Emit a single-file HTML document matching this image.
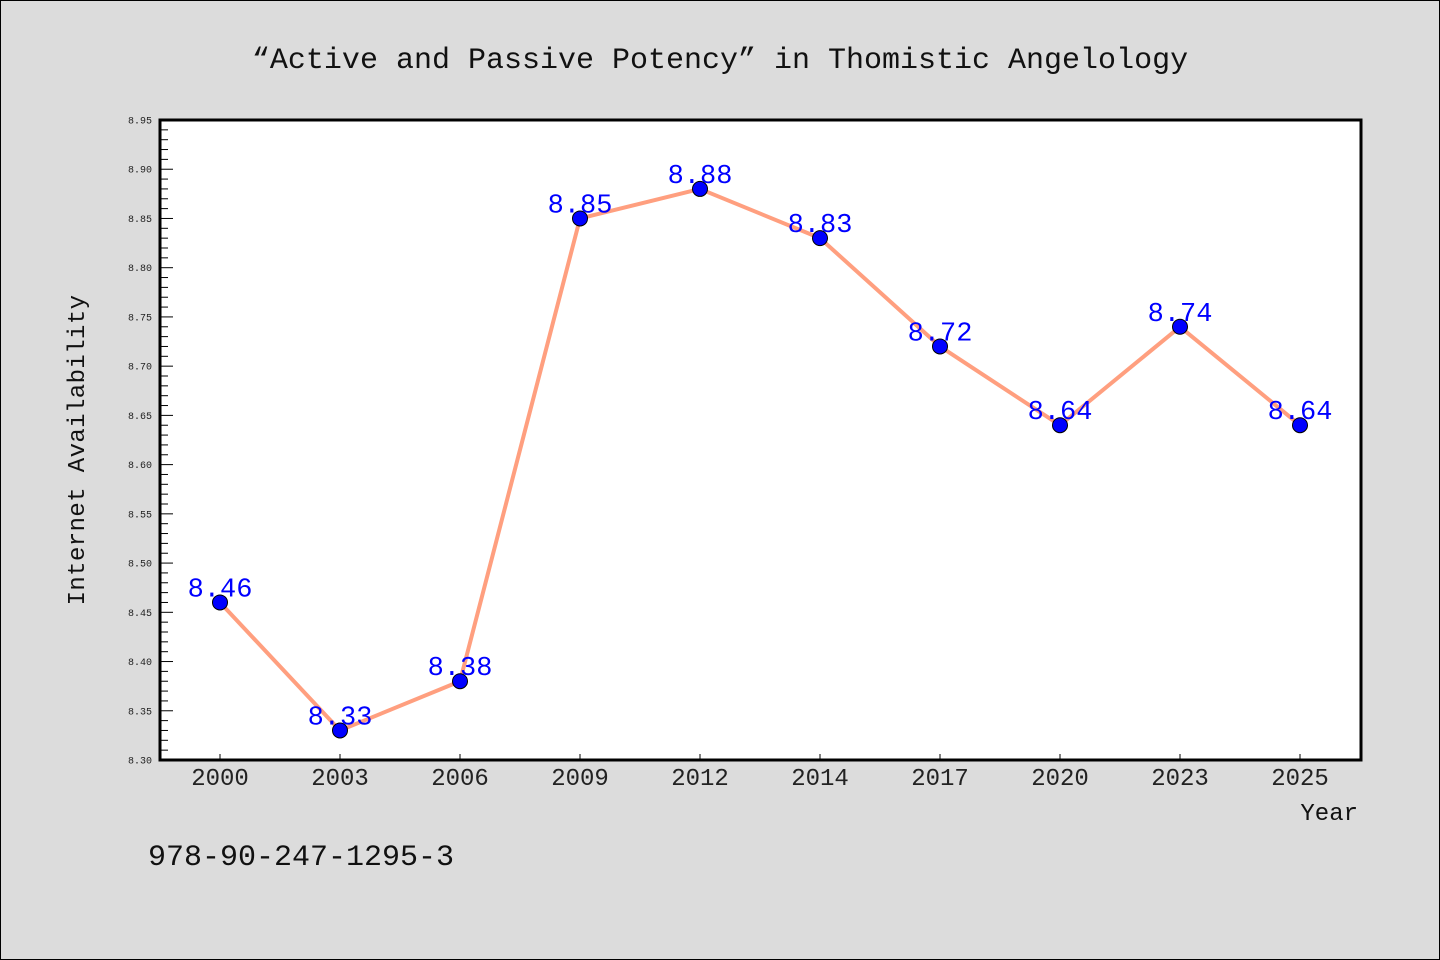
<!DOCTYPE html>
<html><head><meta charset="utf-8"><style>
html,body{margin:0;padding:0;background:#dcdcdc;}
svg{display:block;font-family:"Liberation Mono",monospace;}
</style></head><body>
<svg id="chart" width="1440" height="960" viewBox="0 0 1440 960">
<rect x="0.5" y="0.5" width="1439" height="959" fill="#dcdcdc" stroke="#000"/>
<text x="720" y="68" text-anchor="middle" font-size="30" fill="#111">“Active and Passive Potency”  in Thomistic Angelology</text>
<rect x="160" y="120" width="1201" height="640" fill="#fff"/>
<g id="grid"></g>
<g id="series"></g>
<rect x="160" y="120" width="1201" height="640" fill="none" stroke="#000" stroke-width="3"/>
<text transform="translate(84,450) rotate(-90)" text-anchor="middle" font-size="24" fill="#111" letter-spacing="0.4">Internet Availability</text>
<text x="1358" y="820" text-anchor="end" font-size="24" fill="#111">Year</text>
<text x="148" y="865" font-size="30" fill="#111">978-90-247-1295-3</text>
</svg>
<script>
const categories=["2000","2003","2006","2009","2012","2014","2017","2020","2023","2025"];
const values=[8.46,8.33,8.38,8.85,8.88,8.83,8.72,8.64,8.74,8.64];
const yTicks=["8.30","8.35","8.40","8.45","8.50","8.55","8.60","8.65","8.70","8.75","8.80","8.85","8.90","8.95"];
const NS="http://www.w3.org/2000/svg";
const yMin=8.30,yMax=8.95,plotTop=120,plotBot=760,plotLeft=160;
function yScale(v){return plotBot-(v-yMin)/(yMax-yMin)*(plotBot-plotTop);}
function xScale(i){return 220+i*120;}
function mk(tag,attrs,parent){const e=document.createElementNS(NS,tag);for(const k in attrs)e.setAttribute(k,attrs[k]);parent.appendChild(e);return e;}
const grid=document.getElementById('grid'),ser=document.getElementById('series');
for(let k=0;k<=65;k++){const v=yMin+k*0.01;const major=k%5===0;
 const t=mk('line',{x1:plotLeft,x2:plotLeft+(major?13:8),y1:yScale(v),y2:yScale(v),stroke:'#000','stroke-width':1},grid);
 
 }
yTicks.forEach(s=>{const t=mk('text',{x:152,y:yScale(parseFloat(s))+3.5,'text-anchor':'end','font-size':10,fill:'#222'},grid);t.textContent=s;
 
 });
categories.forEach((c,i)=>{const l=mk('line',{x1:xScale(i),x2:xScale(i),y1:plotBot,y2:plotBot-6,stroke:'#000','stroke-width':1},grid);
 
 
 const t=mk('text',{x:xScale(i),y:785,'text-anchor':'middle','font-size':24,fill:'#222'},grid);t.textContent=c;
 
 });
const pl=mk('polyline',{points:values.map((v,i)=>xScale(i)+','+yScale(v)).join(' '),fill:'none',stroke:'#ff9f7f','stroke-width':4,'stroke-linejoin':'round'},ser);


values.forEach((v,i)=>{const c=mk('circle',{cx:xScale(i),cy:yScale(v),r:7.5,fill:'#0000ff',stroke:'#000','stroke-width':1},ser);
 
 
 const t=mk('text',{x:xScale(i),y:yScale(v)-6,'text-anchor':'middle','font-size':27,fill:'#0000ff'},ser);t.textContent=v.toFixed(2);
 
 });
</script>
</body></html>
